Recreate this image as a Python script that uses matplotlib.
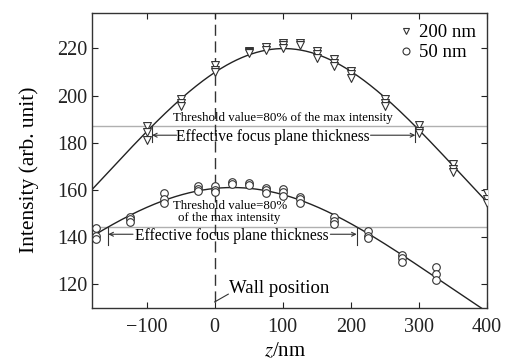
import numpy as np
import matplotlib.pyplot as plt
from matplotlib.lines import Line2D

plt.rcParams['font.family'] = ['Liberation Serif', 'DejaVu Serif']
plt.rcParams['mathtext.fontset'] = 'stix'

# 200 nm particles: z positions and the repeated intensity readings
z_200 = [-100, -100, -100, -50, -50, -50, 0, 0, 0, 50, 50, 50, 75, 75,
         100, 100, 100, 125, 125, 150, 150, 150, 175, 175, 175,
         200, 200, 200, 250, 250, 250, 300, 300, 300, 350, 350, 350,
         400, 400, 400]
i_200 = [187, 184.5, 181, 198.5, 197, 195.5, 213, 211, 210, 219, 218.5, 218,
         220.5, 219.5, 222.5, 221.5, 220, 222.5, 221.5, 219, 217.5, 216,
         215.5, 214, 212.5, 210.5, 209, 207.5, 198.5, 197, 195.5,
         187.5, 185, 184, 171, 169, 167.5, 158.5, 156, 154.5]

# 50 nm particles
z_50 = [-175, -175, -175, -125, -125, -125, -75, -75, -75, -25, -25, -25,
        0, 0, 0, 25, 25, 50, 50, 75, 75, 75, 100, 100, 100,
        125, 125, 125, 175, 175, 175, 225, 225, 225, 275, 275, 275,
        325, 325, 325]
i_50 = [144, 140.5, 139, 148.5, 147.5, 146.5, 158.5, 156, 154.5,
        161.5, 160.5, 159.5, 161.5, 160, 159, 163.5, 162.5, 163, 162,
        161, 160, 158.5, 160.5, 159, 157.5, 157, 156, 154.5,
        148.5, 147, 145.5, 142.5, 140.5, 139.5, 132.5, 131, 129.5,
        127.5, 124.5, 122]

thresh_200 = 187.0
thresh_50 = 144.3

fig = plt.figure(figsize=(5.12, 3.63), dpi=100)
ax = fig.add_axes([0.18, 0.152, 0.771, 0.812])

# Lorentzian fit: 1/I is quadratic in z
xs = np.linspace(-180, 400, 400)
inv_200 = np.poly1d(np.polyfit(z_200, 1.0 / np.array(i_200), 2))
inv_50 = np.poly1d(np.polyfit(z_50, 1.0 / np.array(i_50), 2))

# threshold lines
ax.axhline(thresh_200, color='#b0b0b0', lw=1.0, zorder=1)
ax.axhline(thresh_50, color='#b0b0b0', lw=1.0, zorder=1)

# wall position
ax.axvline(0, ymin=0.02, color='#333333', lw=1.0, dashes=(8, 4), zorder=1)

ax.plot(xs, 1.0 / inv_200(xs), color='#222222', lw=1.0, zorder=2)
ax.plot(xs, 1.0 / inv_50(xs), color='#222222', lw=1.0, zorder=2)

ax.scatter(z_200, i_200, marker='v', s=32, facecolors='white',
           edgecolors='#333333', linewidths=0.8, zorder=3)
ax.scatter(z_50, i_50, marker='o', s=30, facecolors='white',
           edgecolors='#333333', linewidths=0.8, zorder=3)

# crossings of fit with thresholds -> edges of focus plane
def crossings(inv, level):
    r = (inv - 1.0 / level).roots
    r = np.sort(r[np.isreal(r)].real)
    return [v for v in r if -180 <= v <= 400]

x200 = crossings(inv_200, thresh_200)
x50 = crossings(inv_50, thresh_50)

for xc in x200:
    ax.plot([xc, xc], [thresh_200, thresh_200 - 6.5], color='#333333', lw=0.8)
for xc in x50:
    ax.plot([xc, xc], [thresh_50, thresh_50 - 7.5], color='#333333', lw=0.8)

arr = dict(arrowstyle='->', color='#333333', lw=0.8, shrinkA=0, shrinkB=0,
           mutation_scale=7)
ax.text(100, 190.6, 'Threshold value=80% of the max intensity',
        ha='center', va='center', fontsize=9.3)
ax.text(86, 182.3, 'Effective focus plane thickness', ha='center',
        va='center', fontsize=11.2)
ax.annotate('', xy=(x200[0], 183.2), xytext=(-56, 183.2), arrowprops=arr)
ax.annotate('', xy=(x200[1], 183.2), xytext=(229, 183.2), arrowprops=arr)

ax.text(22, 150.5, 'Threshold value=80%\nof the max intensity',
        ha='center', va='center', fontsize=9.3, linespacing=1.0)
ax.text(25, 140.3, 'Effective focus plane thickness', ha='center',
        va='center', fontsize=11.2)
ax.annotate('', xy=(x50[0], 141.2), xytext=(-120, 141.2), arrowprops=arr)
ax.annotate('', xy=(x50[1], 141.2), xytext=(170, 141.2), arrowprops=arr)

ax.plot([0, 20], [112.5, 115.8], color='#333333', lw=0.8)
ax.text(21, 118, 'Wall position', ha='left', va='center', fontsize=13.5)

handles = [Line2D([], [], ls='none', marker='v', ms=5, mfc='white',
                  mec='#333333', mew=0.8, label='200 nm'),
           Line2D([], [], ls='none', marker='o', ms=5, mfc='white',
                  mec='#333333', mew=0.8, label='50 nm')]
ax.legend(handles=handles, loc='upper right', frameon=False, fontsize=13.5,
          handletextpad=0.1, handlelength=1.2, borderaxespad=0.2,
          labelspacing=0.15)

ax.set_xlim(-180, 400)
ax.set_ylim(110, 235)
ax.set_xticks([-100, 0, 100, 200, 300, 400])
ax.set_yticks([120, 140, 160, 180, 200, 220])
ax.set_xticklabels(['\u2212100', '0', '100', '200', '300', '400'])
ax.tick_params(direction='in', top=True, right=True, length=4, width=0.8,
               labelsize=14.5, colors='#222222')
ax.tick_params(axis='x', pad=7)
for sp in ax.spines.values():
    sp.set_color('#333333')
    sp.set_linewidth(1.0)

ax.set_xlabel('$z$/nm', fontsize=15)
ax.xaxis.set_label_coords(0.49, -0.115)
ax.set_ylabel('Intensity (arb. unit)', fontsize=15.5)
ax.yaxis.set_label_coords(-0.135, 0.47)

fig.savefig('out.png', dpi=100)
